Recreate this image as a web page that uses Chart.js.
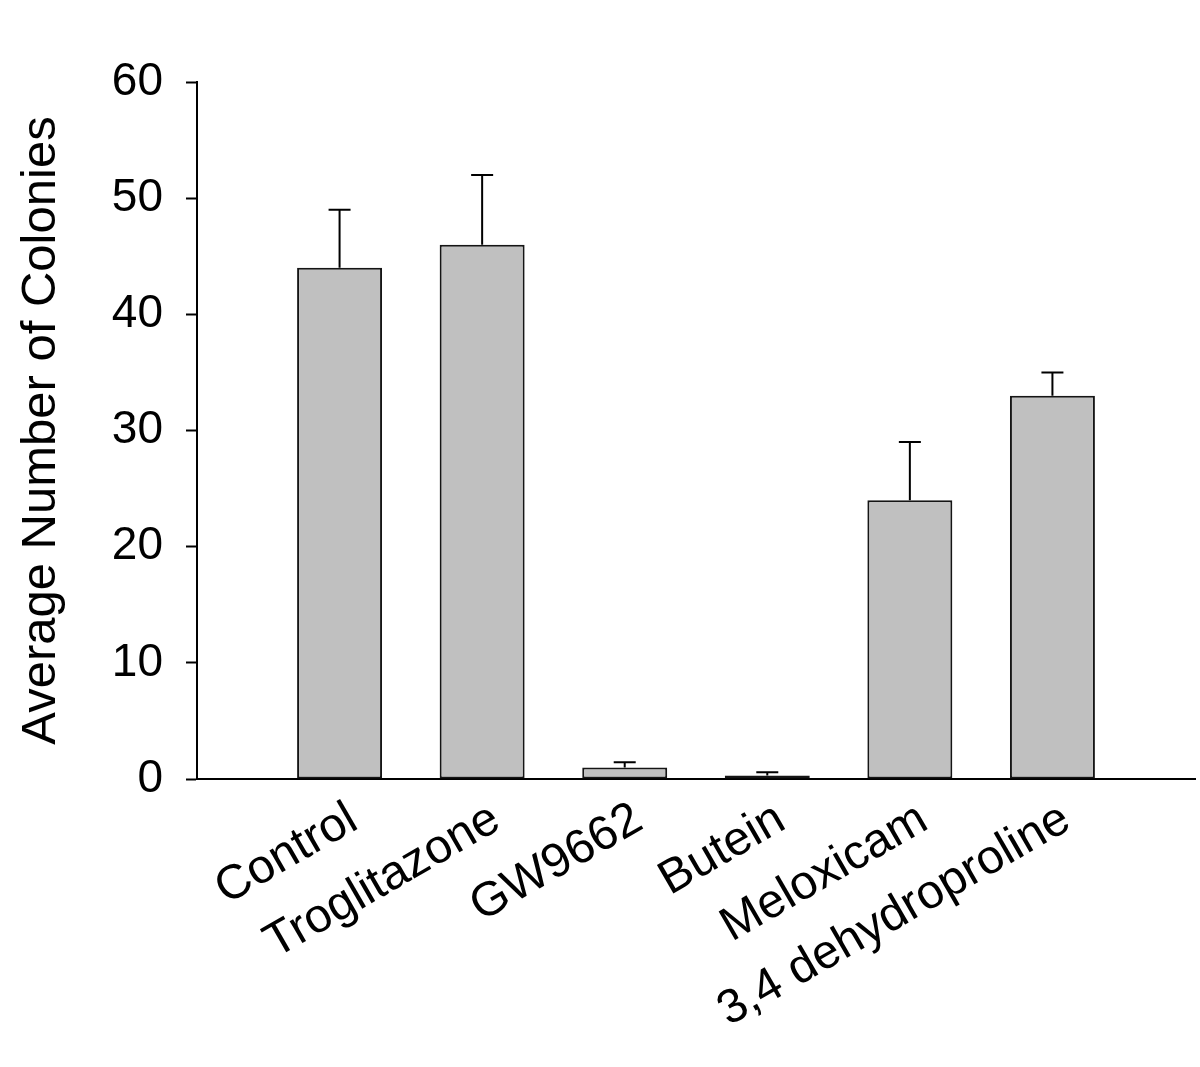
<!DOCTYPE html>
<html>
<head>
<meta charset="utf-8">
<script src="https://cdn.jsdelivr.net/npm/chart.js@4/dist/chart.umd.min.js"></script>
<style>
  html, body { margin: 0; padding: 0; background: #fff; }
  #wrap { width: 1200px; height: 1067px; }
</style>
</head>
<body>
<div id="wrap"><canvas id="c" width="1200" height="1067"></canvas></div>
<script>
const categories = ['Control', 'Troglitazone', 'GW9662', 'Butein', 'Meloxicam', '3,4 dehydroproline'];
const means = [44, 46, 1.0, 0.3, 24, 33];
const upperErrors = [5, 6, 0.45, 0.28, 5, 2];
const yTicks = [0, 10, 20, 30, 40, 50, 60];
const yTitle = 'Average Number of Colonies';

// pad one empty slot on each side so bars sit at positions 1..6 of a 0..7 axis
const labels = [''].concat(categories, ['']);
const data = [null].concat(means, [null]);
const errs = [null].concat(upperErrors, [null]);

const errorBarPlugin = {
  id: 'errorBars',
  afterDatasetsDraw(chart) {
    const ctx = chart.ctx;
    const meta = chart.getDatasetMeta(0);
    const yScale = chart.scales.y;
    ctx.save();
    ctx.strokeStyle = '#000';
    ctx.lineWidth = 2;
    meta.data.forEach((bar, i) => {
      if (data[i] == null || errs[i] == null) return;
      const x = bar.x;
      const yTop = yScale.getPixelForValue(data[i]);
      const yErr = yScale.getPixelForValue(data[i] + errs[i]);
      ctx.beginPath();
      ctx.moveTo(x, yTop);
      ctx.lineTo(x, yErr);
      ctx.moveTo(x - 11, yErr);
      ctx.lineTo(x + 11, yErr);
      ctx.stroke();
    });
    ctx.restore();
  }
};

new Chart(document.getElementById('c'), {
  type: 'bar',
  data: {
    labels: labels,
    datasets: [{
      data: data,
      backgroundColor: '#c0c0c0',
      borderColor: '#151515',
      borderWidth: 2,
      borderSkipped: false,
      categoryPercentage: 1.0,
      barPercentage: 0.596
    }]
  },
  options: {
    responsive: false,
    animation: false,
    devicePixelRatio: 1,
    layout: { padding: { top: 82, right: 5, bottom: 0, left: 0 } },
    plugins: { legend: { display: false }, tooltip: { enabled: false } },
    scales: {
      x: {
        type: 'category',
        offset: false,
        grid: { display: false, drawTicks: false },
        border: { display: true, color: '#000', width: 2 },
        ticks: {
          autoSkip: false,
          minRotation: 30,
          maxRotation: 30,
          padding: 12,
          labelOffset: 14,
          color: '#000',
          font: { family: '"Liberation Sans", Arial, sans-serif', size: 48 }
        },
        afterFit(scale) {
          scale.height = 1067 - 779;
          scale.paddingLeft = 0;
          scale.paddingRight = 0;
        }
      },
      y: {
        min: 0,
        max: 60,
        afterBuildTicks(scale) { scale.ticks = yTicks.map(v => ({ value: v })); },
        grid: { display: true, drawOnChartArea: false, drawTicks: true, tickLength: 11, tickWidth: 2, tickColor: '#000' },
        border: { display: true, color: '#000', width: 2 },
        ticks: {
          padding: 23,
          color: '#000',
          font: { family: '"Liberation Sans", Arial, sans-serif', size: 46 }
        },
        title: {
          display: true,
          text: yTitle,
          color: '#000',
          font: { family: '"Liberation Sans", Arial, sans-serif', size: 49, weight: 'normal' },
          padding: { top: 12, bottom: 0 }
        },
        afterFit(scale) { scale.width = 197; }
      }
    }
  },
  plugins: [errorBarPlugin]
});
</script>
</body>
</html>
